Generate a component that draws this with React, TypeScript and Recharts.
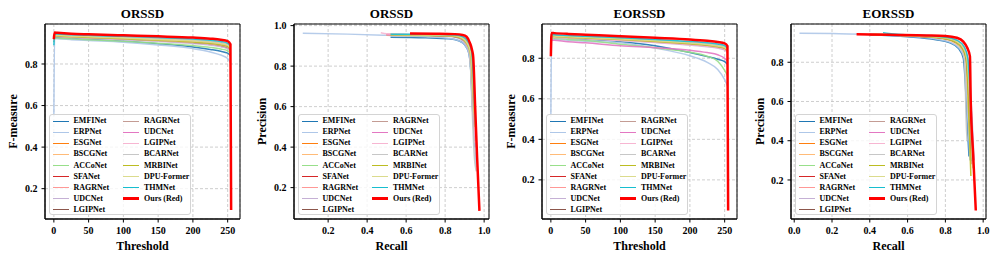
import React from 'react';
import { LineChart, Line, XAxis, YAxis, CartesianGrid, ReferenceArea, Legend } from 'recharts';

const FONT = "'Liberation Serif', 'Times New Roman', Times, serif";

const METHODS = [
  'EMFINet', 'ERPNet', 'ESGNet', 'BSCGNet', 'ACCoNet', 'SFANet', 'RAGRNet', 'UDCNet', 'LGIPNet',
  'RAGRNet', 'UDCNet', 'LGIPNet', 'BCARNet', 'MRBINet', 'DPU-Former', 'THMNet', 'Ours (Red)',
];
const COLORS = [
  '#1f77b4', '#aec7e8', '#ff7f0e', '#ffbb78', '#98df8a', '#d62728', '#ff9896', '#c5b0d5', '#8c564b',
  '#c49c94', '#e377c2', '#f7b6d2', '#c7c7c7', '#bcbd22', '#dbdb8d', '#17becf', '#ff0000',
];

const THRESHOLDS = [0, 1, 5, 25, 50, 100, 150, 200, 225, 240, 250, 254, 255];
const THRESHOLD_TICKS = [0, 50, 100, 150, 200, 250];
const FM_TICKS = [0.2, 0.4, 0.6, 0.8];
const RECALL_TICKS_ORSSD = [0.2, 0.4, 0.6, 0.8, 1.0];
const RECALL_TICKS_EORSSD = [0.0, 0.2, 0.4, 0.6, 0.8, 1.0];
const PRECISION_TICKS_ORSSD = [0.2, 0.4, 0.6, 0.8, 1.0];
const PRECISION_TICKS_EORSSD = [0.2, 0.4, 0.6, 0.8];

// F-measure vs threshold, ORSSD (one row per method, at THRESHOLDS)
const ORSSD_FM: number[][] = [
  [0.905, 0.928, 0.927, 0.923, 0.919, 0.910, 0.898, 0.882, 0.870, 0.861, 0.852, 0.840],
  [0.550, 0.922, 0.921, 0.917, 0.913, 0.905, 0.892, 0.874, 0.858, 0.843, 0.826, 0.805],
  [0.915, 0.940, 0.939, 0.935, 0.931, 0.923, 0.915, 0.905, 0.897, 0.889, 0.880, 0.868],
  [0.910, 0.936, 0.935, 0.931, 0.927, 0.919, 0.911, 0.901, 0.893, 0.885, 0.876, 0.864],
  [0.905, 0.926, 0.925, 0.921, 0.917, 0.909, 0.900, 0.889, 0.880, 0.872, 0.864, 0.852],
  [0.915, 0.939, 0.938, 0.934, 0.930, 0.923, 0.916, 0.908, 0.901, 0.894, 0.886, 0.874],
  [0.920, 0.943, 0.942, 0.939, 0.935, 0.929, 0.922, 0.914, 0.907, 0.900, 0.892, 0.880],
  [0.910, 0.933, 0.932, 0.928, 0.924, 0.917, 0.909, 0.899, 0.891, 0.883, 0.874, 0.862],
  [0.915, 0.938, 0.937, 0.933, 0.929, 0.922, 0.914, 0.905, 0.898, 0.890, 0.881, 0.869],
  [0.915, 0.940, 0.939, 0.935, 0.932, 0.925, 0.918, 0.910, 0.903, 0.896, 0.888, 0.876],
  [0.910, 0.937, 0.936, 0.932, 0.929, 0.922, 0.915, 0.907, 0.900, 0.892, 0.884, 0.872],
  [0.910, 0.935, 0.934, 0.930, 0.927, 0.920, 0.913, 0.905, 0.898, 0.891, 0.883, 0.871],
  [0.915, 0.941, 0.940, 0.937, 0.934, 0.928, 0.922, 0.915, 0.909, 0.903, 0.896, 0.885],
  [0.915, 0.936, 0.935, 0.931, 0.928, 0.921, 0.914, 0.906, 0.899, 0.892, 0.884, 0.872],
  [0.915, 0.939, 0.938, 0.934, 0.931, 0.925, 0.918, 0.911, 0.905, 0.898, 0.891, 0.879],
  [0.890, 0.945, 0.944, 0.941, 0.938, 0.933, 0.927, 0.920, 0.914, 0.908, 0.900, 0.888],
  [0.920, 0.951, 0.950, 0.946, 0.943, 0.938, 0.933, 0.927, 0.922, 0.917, 0.910, 0.895, 0.097],
];

// F-measure vs threshold, EORSSD
const EORSSD_FM: number[][] = [
  [0.880, 0.905, 0.904, 0.899, 0.894, 0.882, 0.862, 0.828, 0.808, 0.795, 0.783, 0.770],
  [0.520, 0.895, 0.894, 0.889, 0.884, 0.876, 0.850, 0.812, 0.780, 0.745, 0.695, 0.665],
  [0.860, 0.912, 0.911, 0.907, 0.903, 0.895, 0.885, 0.872, 0.864, 0.857, 0.849, 0.838],
  [0.860, 0.908, 0.907, 0.903, 0.899, 0.891, 0.881, 0.868, 0.860, 0.853, 0.845, 0.833],
  [0.850, 0.900, 0.899, 0.893, 0.887, 0.869, 0.852, 0.830, 0.810, 0.785, 0.740, 0.715],
  [0.860, 0.910, 0.909, 0.905, 0.901, 0.893, 0.883, 0.870, 0.862, 0.855, 0.847, 0.835],
  [0.865, 0.914, 0.913, 0.909, 0.905, 0.897, 0.888, 0.876, 0.869, 0.862, 0.854, 0.843],
  [0.855, 0.906, 0.905, 0.901, 0.897, 0.888, 0.878, 0.865, 0.857, 0.850, 0.841, 0.829],
  [0.860, 0.909, 0.908, 0.904, 0.900, 0.892, 0.882, 0.870, 0.862, 0.855, 0.846, 0.834],
  [0.860, 0.910, 0.909, 0.905, 0.901, 0.893, 0.884, 0.873, 0.866, 0.859, 0.851, 0.840],
  [0.840, 0.890, 0.889, 0.882, 0.876, 0.862, 0.852, 0.840, 0.828, 0.817, 0.800, 0.785],
  [0.855, 0.905, 0.904, 0.900, 0.896, 0.888, 0.879, 0.867, 0.859, 0.852, 0.844, 0.832],
  [0.865, 0.915, 0.914, 0.910, 0.906, 0.899, 0.890, 0.879, 0.872, 0.866, 0.858, 0.847],
  [0.860, 0.908, 0.907, 0.903, 0.899, 0.892, 0.883, 0.871, 0.864, 0.857, 0.849, 0.837],
  [0.860, 0.911, 0.910, 0.906, 0.902, 0.895, 0.886, 0.875, 0.868, 0.861, 0.853, 0.842],
  [0.850, 0.917, 0.916, 0.912, 0.908, 0.901, 0.893, 0.883, 0.876, 0.870, 0.862, 0.851],
  [0.810, 0.925, 0.924, 0.920, 0.916, 0.908, 0.901, 0.893, 0.886, 0.880, 0.873, 0.860, 0.049],
];

// Precision-recall, ORSSD: [recall, precision] pairs per method
const ORSSD_PR: number[][][] = [
  [[0.52, 0.943], [0.70, 0.940], [0.82, 0.935], [0.87, 0.925], [0.90, 0.905], [0.92, 0.870], [0.93, 0.800], [0.94, 0.600], [0.952, 0.400]],
  [[0.07, 0.962], [0.30, 0.958], [0.50, 0.952], [0.70, 0.945], [0.82, 0.937], [0.87, 0.926], [0.90, 0.905], [0.92, 0.870], [0.93, 0.800], [0.945, 0.550], [0.958, 0.300]],
  [[0.50, 0.955], [0.70, 0.953], [0.84, 0.949], [0.88, 0.940], [0.91, 0.915], [0.928, 0.870], [0.935, 0.800], [0.945, 0.600], [0.955, 0.450]],
  [[0.50, 0.953], [0.70, 0.951], [0.83, 0.947], [0.875, 0.937], [0.905, 0.912], [0.925, 0.865], [0.932, 0.800], [0.942, 0.600], [0.953, 0.420]],
  [[0.55, 0.952], [0.70, 0.950], [0.84, 0.947], [0.88, 0.938], [0.91, 0.913], [0.928, 0.870], [0.935, 0.800], [0.945, 0.620], [0.955, 0.480]],
  [[0.55, 0.955], [0.70, 0.953], [0.85, 0.949], [0.885, 0.940], [0.913, 0.915], [0.930, 0.870], [0.937, 0.800], [0.946, 0.600], [0.956, 0.450]],
  [[0.50, 0.957], [0.70, 0.955], [0.85, 0.951], [0.888, 0.942], [0.915, 0.918], [0.932, 0.875], [0.939, 0.800], [0.948, 0.620], [0.958, 0.470]],
  [[0.52, 0.953], [0.70, 0.951], [0.83, 0.946], [0.875, 0.935], [0.905, 0.910], [0.925, 0.865], [0.933, 0.800], [0.944, 0.580], [0.955, 0.400]],
  [[0.52, 0.955], [0.70, 0.953], [0.84, 0.948], [0.88, 0.938], [0.91, 0.913], [0.928, 0.870], [0.935, 0.800], [0.945, 0.600], [0.956, 0.430]],
  [[0.50, 0.956], [0.70, 0.954], [0.845, 0.950], [0.885, 0.940], [0.912, 0.915], [0.930, 0.870], [0.937, 0.800], [0.947, 0.600], [0.957, 0.450]],
  [[0.50, 0.955], [0.70, 0.953], [0.84, 0.949], [0.88, 0.939], [0.91, 0.914], [0.928, 0.870], [0.936, 0.800], [0.946, 0.600], [0.956, 0.440]],
  [[0.47, 0.965], [0.50, 0.960], [0.70, 0.955], [0.84, 0.950], [0.88, 0.940], [0.908, 0.914], [0.927, 0.870], [0.935, 0.800], [0.945, 0.600], [0.955, 0.420]],
  [[0.52, 0.956], [0.70, 0.954], [0.845, 0.950], [0.885, 0.940], [0.91, 0.915], [0.925, 0.870], [0.930, 0.800], [0.938, 0.600], [0.950, 0.350], [0.960, 0.280]],
  [[0.52, 0.954], [0.70, 0.952], [0.84, 0.948], [0.88, 0.938], [0.91, 0.912], [0.928, 0.870], [0.936, 0.800], [0.946, 0.620], [0.955, 0.500]],
  [[0.52, 0.956], [0.70, 0.954], [0.845, 0.950], [0.885, 0.940], [0.912, 0.915], [0.930, 0.870], [0.938, 0.800], [0.948, 0.620], [0.957, 0.500]],
  [[0.52, 0.958], [0.70, 0.957], [0.85, 0.954], [0.89, 0.946], [0.917, 0.922], [0.935, 0.880], [0.942, 0.800], [0.950, 0.620], [0.960, 0.450]],
  [[0.62, 0.961], [0.75, 0.960], [0.85, 0.958], [0.89, 0.954], [0.91, 0.945], [0.927, 0.915], [0.938, 0.880], [0.944, 0.845], [0.954, 0.600], [0.964, 0.350], [0.976, 0.085]],
];

// Precision-recall, EORSSD
const EORSSD_PR: number[][][] = [
  [[0.40, 0.940], [0.60, 0.930], [0.75, 0.915], [0.82, 0.900], [0.87, 0.870], [0.895, 0.820], [0.905, 0.700], [0.915, 0.500], [0.925, 0.320]],
  [[0.028, 0.948], [0.20, 0.946], [0.40, 0.942], [0.60, 0.932], [0.75, 0.918], [0.83, 0.900], [0.875, 0.870], [0.90, 0.820], [0.91, 0.700], [0.92, 0.500], [0.93, 0.300]],
  [[0.40, 0.942], [0.60, 0.936], [0.78, 0.925], [0.85, 0.905], [0.89, 0.870], [0.91, 0.820], [0.92, 0.700], [0.93, 0.500], [0.94, 0.300]],
  [[0.40, 0.941], [0.60, 0.935], [0.77, 0.922], [0.845, 0.902], [0.885, 0.868], [0.905, 0.820], [0.915, 0.700], [0.925, 0.500], [0.935, 0.320]],
  [[0.42, 0.943], [0.60, 0.937], [0.78, 0.925], [0.85, 0.906], [0.89, 0.872], [0.91, 0.820], [0.92, 0.700], [0.93, 0.500], [0.94, 0.300]],
  [[0.40, 0.942], [0.60, 0.936], [0.78, 0.925], [0.855, 0.907], [0.893, 0.873], [0.912, 0.820], [0.922, 0.700], [0.932, 0.500], [0.942, 0.280]],
  [[0.40, 0.943], [0.60, 0.938], [0.79, 0.927], [0.86, 0.910], [0.897, 0.877], [0.915, 0.825], [0.925, 0.700], [0.935, 0.500], [0.945, 0.280]],
  [[0.42, 0.942], [0.60, 0.936], [0.78, 0.925], [0.855, 0.907], [0.895, 0.875], [0.918, 0.820], [0.93, 0.700], [0.942, 0.500], [0.952, 0.300]],
  [[0.40, 0.941], [0.60, 0.935], [0.78, 0.923], [0.85, 0.904], [0.89, 0.870], [0.91, 0.820], [0.92, 0.700], [0.93, 0.500], [0.94, 0.300]],
  [[0.40, 0.942], [0.60, 0.937], [0.785, 0.926], [0.857, 0.908], [0.894, 0.874], [0.913, 0.820], [0.922, 0.700], [0.932, 0.500], [0.942, 0.300]],
  [[0.42, 0.941], [0.60, 0.936], [0.78, 0.925], [0.855, 0.907], [0.895, 0.874], [0.916, 0.820], [0.928, 0.700], [0.94, 0.500], [0.95, 0.300]],
  [[0.42, 0.942], [0.60, 0.937], [0.785, 0.926], [0.857, 0.908], [0.895, 0.875], [0.915, 0.820], [0.926, 0.700], [0.938, 0.500], [0.948, 0.320]],
  [[0.40, 0.944], [0.60, 0.938], [0.78, 0.926], [0.85, 0.906], [0.885, 0.870], [0.90, 0.820], [0.905, 0.700], [0.91, 0.500], [0.915, 0.400]],
  [[0.42, 0.942], [0.60, 0.936], [0.78, 0.924], [0.85, 0.905], [0.89, 0.870], [0.91, 0.820], [0.918, 0.700], [0.925, 0.500], [0.935, 0.220]],
  [[0.42, 0.943], [0.60, 0.937], [0.785, 0.926], [0.857, 0.908], [0.895, 0.874], [0.914, 0.820], [0.924, 0.700], [0.934, 0.500], [0.944, 0.260]],
  [[0.47, 0.951], [0.50, 0.946], [0.60, 0.940], [0.79, 0.929], [0.862, 0.912], [0.90, 0.878], [0.918, 0.825], [0.928, 0.700], [0.938, 0.500], [0.948, 0.300]],
  [[0.33, 0.943], [0.50, 0.940], [0.70, 0.937], [0.80, 0.934], [0.86, 0.925], [0.895, 0.905], [0.915, 0.875], [0.93, 0.830], [0.934, 0.610], [0.947, 0.330], [0.961, 0.044]],
];

type Pt = { x: number; y: number };

const fmSeries = (rows: number[][]): Pt[][] =>
  rows.map((vals) => vals.map((v, i) => ({ x: THRESHOLDS[i], y: v })));
const prSeries = (rows: number[][][]): Pt[][] =>
  rows.map((pts) => pts.map(([r, p]) => ({ x: r, y: p })));

const fmt1 = (v: number) => v.toFixed(1);
const fmtInt = (v: number) => String(v);

interface PanelCfg {
  left: number;
  width: number;
  mLeft: number;
  mRight: number;
  title: string;
  xLabel: string;
  yLabel: string;
  xDomain: [number, number];
  yDomain: [number, number];
  xTicks: number[];
  yTicks: number[];
  xFmt: (v: number) => string;
  series: Pt[][];
}

const PANELS: PanelCfg[] = [
  {
    left: 0, width: 249, mLeft: 5, mRight: 9, title: 'ORSSD', xLabel: 'Threshold', yLabel: 'F-measure',
    xDomain: [-12.75, 267.75], yDomain: [0.054, 0.9925], xTicks: THRESHOLD_TICKS, yTicks: FM_TICKS,
    xFmt: fmtInt, series: fmSeries(ORSSD_FM),
  },
  {
    left: 249, width: 249, mLeft: 5, mRight: 9, title: 'ORSSD', xLabel: 'Recall', yLabel: 'Precision',
    xDomain: [0.025, 1.025], yDomain: [0.045, 1.008], xTicks: RECALL_TICKS_ORSSD, yTicks: PRECISION_TICKS_ORSSD,
    xFmt: fmt1, series: prSeries(ORSSD_PR),
  },
  {
    left: 498, width: 249, mLeft: 4, mRight: 10, title: 'EORSSD', xLabel: 'Threshold', yLabel: 'F-measure',
    xDomain: [-12.75, 267.75], yDomain: [0.007, 0.969], xTicks: THRESHOLD_TICKS, yTicks: FM_TICKS,
    xFmt: fmtInt, series: fmSeries(EORSSD_FM),
  },
  {
    left: 747, width: 250, mLeft: 4, mRight: 11, title: 'EORSSD', xLabel: 'Recall', yLabel: 'Precision',
    xDomain: [-0.017, 1.015], yDomain: [0.001, 0.995], xTicks: RECALL_TICKS_EORSSD, yTicks: PRECISION_TICKS_EORSSD,
    xFmt: fmt1, series: prSeries(EORSSD_PR),
  },
];

const tickStyle = { fontSize: 10, fontWeight: 'bold', fill: '#000', fontFamily: FONT };

const LegendBox = () => (
  <div
    style={{
      width: 142, height: 101, boxSizing: 'border-box', border: '1px solid #d4d4d4', borderRadius: 3,
      background: 'rgba(255,255,255,0.8)', position: 'relative', fontFamily: FONT, fontWeight: 'bold',
      fontSize: 8, color: '#000',
    }}
  >
    {METHODS.map((m, i) => {
      const col = i < 9 ? 0 : 1;
      const row = i < 9 ? i : i - 9;
      const cy = 6.3 + row * 11.05;
      const lx = col === 0 ? 2.5 : 73;
      const w = i === 16 ? 2.4 : 1.5;
      return (
        <React.Fragment key={i}>
          <div style={{ position: 'absolute', left: lx, top: cy - w / 2, width: 16, height: w, background: COLORS[i] }} />
          <div style={{ position: 'absolute', left: lx + 21, top: cy - 5, lineHeight: '10px', whiteSpace: 'nowrap' }}>{m}</div>
        </React.Fragment>
      );
    })}
  </div>
);

function Panel({ cfg }: { cfg: PanelCfg }) {
  const yLabelX = 12.3 - cfg.mLeft;
  return (
    <div style={{ position: 'absolute', left: cfg.left, top: 0, width: cfg.width, height: 261 }}>
      <LineChart width={cfg.width} height={261} margin={{ top: 24, right: cfg.mRight, bottom: 0, left: cfg.mLeft }}>
        <CartesianGrid stroke="#c2c2c2" strokeDasharray="3 2" strokeWidth={0.8} />
        <XAxis
          type="number" dataKey="x" domain={cfg.xDomain} ticks={cfg.xTicks} allowDataOverflow interval={0}
          height={42} tickSize={3.5} tickMargin={4} tick={tickStyle} tickFormatter={cfg.xFmt}
          axisLine={{ stroke: '#000' }} tickLine={{ stroke: '#000' }}
          label={{ value: cfg.xLabel, position: 'insideBottom', offset: 11, fontSize: 12, fontWeight: 'bold', fill: '#000', fontFamily: FONT }}
        />
        <YAxis
          type="number" domain={cfg.yDomain} ticks={cfg.yTicks} allowDataOverflow interval={0}
          width={40} tickSize={3.5} tickMargin={4} tick={tickStyle} tickFormatter={fmt1}
          axisLine={{ stroke: '#000' }} tickLine={{ stroke: '#000' }}
          label={{ value: cfg.yLabel, angle: -90, position: 'insideLeft', offset: yLabelX, fontSize: 12, fontWeight: 'bold', fill: '#000', fontFamily: FONT, style: { textAnchor: 'middle' } }}
        />
        {cfg.series.map((data, i) => (
          <Line
            key={i} data={data} dataKey="y" name={METHODS[i]} type="monotone" stroke={COLORS[i]}
            strokeWidth={i === 16 ? 2.5 : 1.5} strokeOpacity={i === 16 ? 1 : 0.9}
            dot={false} activeDot={false} isAnimationActive={false}
          />
        ))}
        <ReferenceArea
          x1={cfg.xDomain[0]} x2={cfg.xDomain[1]} y1={cfg.yDomain[0]} y2={cfg.yDomain[1]}
          fill="none" fillOpacity={0} stroke="#000" strokeWidth={1} ifOverflow="visible"
          label={{ value: cfg.title, position: 'top', offset: 6, fontSize: 13, fontWeight: 'bold', fill: '#000', fontFamily: FONT }}
        />
        <Legend
          content={() => <LegendBox />} layout="horizontal" verticalAlign="middle" align="center"
          wrapperStyle={{ left: cfg.mLeft + 44, top: 114, width: 142, height: 101 }}
        />
      </LineChart>
    </div>
  );
}

export default function App() {
  return (
    <div style={{ position: 'absolute', left: 0, top: 0, width: 997, height: 261, background: '#fff' }}>
      {PANELS.map((p, i) => (
        <Panel key={i} cfg={p} />
      ))}
    </div>
  );
}
